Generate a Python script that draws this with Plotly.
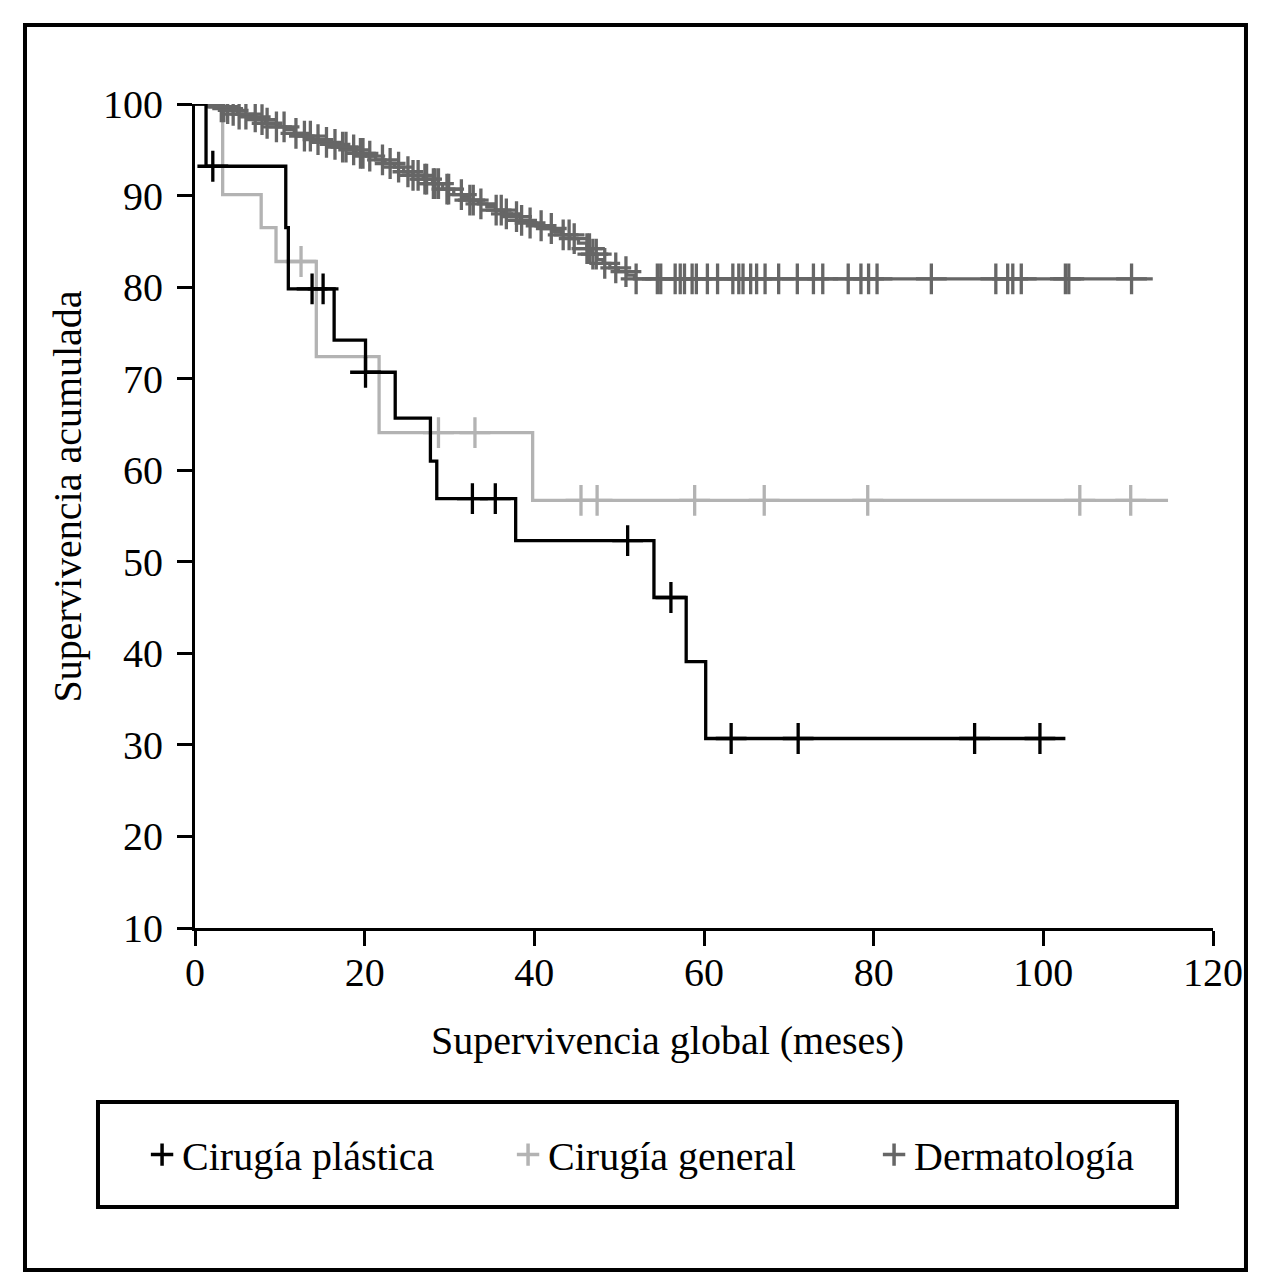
import plotly.graph_objects as go

# Kaplan-Meier curves (months, % survival)
plastica_t = [1.3, 10.7, 11.0, 16.4, 20.1, 23.6, 27.75, 28.5, 37.8, 54.1, 57.9, 60.2]
plastica_s = [93.2, 86.5, 79.8, 74.2, 70.7, 65.7, 61.0, 56.9, 52.3, 46.1, 39.1, 30.7]
plastica_cens = [2.1, 13.8, 15.1, 20.1, 32.7, 35.4, 51.0, 56.1, 63.2, 71.1, 91.9, 99.6]
plastica_end = 102.6

general_t = [3.26, 7.8, 9.55, 14.3, 21.7, 39.8]
general_s = [90.1, 86.5, 82.8, 72.4, 64.1, 56.7]
general_cens = [12.5, 28.7, 33.0, 45.5, 47.4, 58.9, 67.1, 79.3, 104.3, 110.3]
general_end = 114.7

derma_t = [2.9, 3.6, 4.1, 5.0, 6.1, 7.2, 8.3, 9.6, 10.6, 11.7, 12.8, 13.9, 14.9,
           15.9, 16.9, 17.9, 19.0, 20.2, 21.3, 22.4, 23.5, 24.6, 25.7, 26.9, 28.0,
           29.2, 30.5, 31.5, 32.4, 33.4, 34.4, 35.4, 36.4, 37.3, 38.3, 39.3, 40.2,
           41.2, 42.2, 43.2, 44.2, 45.2, 46.2, 46.8, 47.4, 48.1, 48.9, 49.9, 50.9, 51.8]
derma_s = [99.7, 99.5, 99.3, 98.9, 98.6, 98.3, 97.9, 97.5, 97.2, 96.8, 96.5, 96.1, 95.8,
           95.6, 95.3, 95.0, 94.6, 94.3, 93.9, 93.5, 93.1, 92.6, 92.2, 91.8, 91.3,
           90.7, 90.1, 89.8, 89.5, 89.1, 88.8, 88.4, 88.0, 87.7, 87.3, 87.0, 86.7,
           86.4, 86.1, 85.7, 85.3, 84.8, 84.2, 83.6, 83.0, 82.6, 82.1, 81.7, 81.3, 80.9]
derma_cens = [3.1, 3.4, 3.85, 4.5, 5.2, 6.0, 7.1, 7.9, 8.5, 9.6, 10.5, 11.9, 12.9, 13.6,
              14.5, 15.5, 16.5, 17.4, 17.8, 18.7, 19.5, 19.8, 20.6, 22.1, 23.0, 24.0,
              25.1, 25.7, 26.3, 27.1, 27.3, 28.1, 28.3, 28.7, 29.7, 29.9, 31.4, 32.4,
              32.8, 33.7, 35.5, 36.1, 36.7, 37.9, 38.5, 39.5, 40.8, 42.0, 43.4, 44.1,
              44.7, 46.2, 46.5, 46.9, 47.3, 48.3, 49.6, 50.8,
              52.0, 54.5, 54.9, 56.6, 57.2, 57.7, 58.6, 59.1, 60.4, 61.6, 63.4, 64.1,
              64.6, 65.5, 66.2, 67.2, 68.8, 71.0, 72.9, 74.0, 77.0, 78.5, 79.4, 80.4,
              86.8, 94.4, 95.8, 96.4, 97.4, 102.6, 103.0, 110.4]
derma_end = 112.9

groups = ["Cirugía plástica", "Cirugía general", "Dermatología"]
FONT = "Liberation Serif"


def surv_at(times, surv, t):
    s = 100.0
    for ti, si in zip(times, surv):
        if ti <= t:
            s = si
    return s


def add_curve(fig, times, surv, cens, end, color):
    xs = [0] + times + [end]
    ys = [100] + surv + [surv[-1]]
    fig.add_trace(go.Scatter(x=xs, y=ys, mode="lines", line_shape="hv",
                             line=dict(color=color, width=3.3), showlegend=False,
                             hoverinfo="skip"))
    fig.add_trace(go.Scatter(x=cens, y=[surv_at(times, surv, c) for c in cens],
                             mode="markers", showlegend=False,
                             marker=dict(symbol="cross-thin", size=22,
                                         line=dict(width=3.3, color=color))))


fig = go.Figure()
add_curve(fig, general_t, general_s, general_cens, general_end, "#b3b3b3")
add_curve(fig, derma_t, derma_s, derma_cens, derma_end, "#666666")
add_curve(fig, plastica_t, plastica_s, plastica_cens, plastica_end, "#000000")

# legend entries (cross only)
for name, color in zip(groups, ["#000000", "#b3b3b3", "#666666"]):
    fig.add_trace(go.Scatter(x=[None], y=[None], mode="markers", name=name,
                             marker=dict(symbol="cross-thin", size=16,
                                         line=dict(width=3.5, color=color))))

axis_common = dict(showline=True, linecolor="black", linewidth=3, ticks="outside",
                   ticklen=15, tickwidth=3, tickcolor="black", showgrid=False,
                   zeroline=False, tickfont=dict(family=FONT, size=40, color="black"))

fig.update_layout(
    width=1248, height=1272,
    margin=dict(l=187, r=43, t=96, b=352),
    paper_bgcolor="white", plot_bgcolor="white",
    font=dict(family=FONT, size=40, color="black"),
    xaxis=dict(range=[0, 120], tickvals=[0, 20, 40, 60, 80, 100, 120],
               ticklabelstandoff=-8, **axis_common),
    yaxis=dict(range=[10, 100], tickvals=[10, 20, 30, 40, 50, 60, 70, 80, 90, 100],
               ticklabelstandoff=6, **axis_common),
    legend=dict(orientation="h", x=-0.052, y=-0.275, xanchor="left", yanchor="middle",
                entrywidth=321, entrywidthmode="pixels", bgcolor="rgba(0,0,0,0)",
                font=dict(family=FONT, size=40, color="black")),
    annotations=[
        dict(text="Supervivencia global (meses)", xref="paper", yref="paper",
             x=0.4646, y=-0.136, xanchor="center", yanchor="middle", showarrow=False,
             font=dict(family=FONT, size=40)),
        dict(text="Supervivencia acumulada", xref="paper", yref="paper",
             x=-0.1248, y=0.5237, xanchor="center", yanchor="middle", showarrow=False,
             textangle=-90, font=dict(family=FONT, size=40)),
    ],
    shapes=[
        dict(type="rect", xref="paper", yref="paper", x0=-0.167, x1=1.0324,
             y0=-0.415, y1=1.0959, line=dict(color="black", width=4)),
        dict(type="rect", xref="paper", yref="paper", x0=-0.0953, x1=0.9646,
             y0=-0.3386, y1=-0.2112, line=dict(color="black", width=4)),
    ],
)

fig.write_html("out.html")
